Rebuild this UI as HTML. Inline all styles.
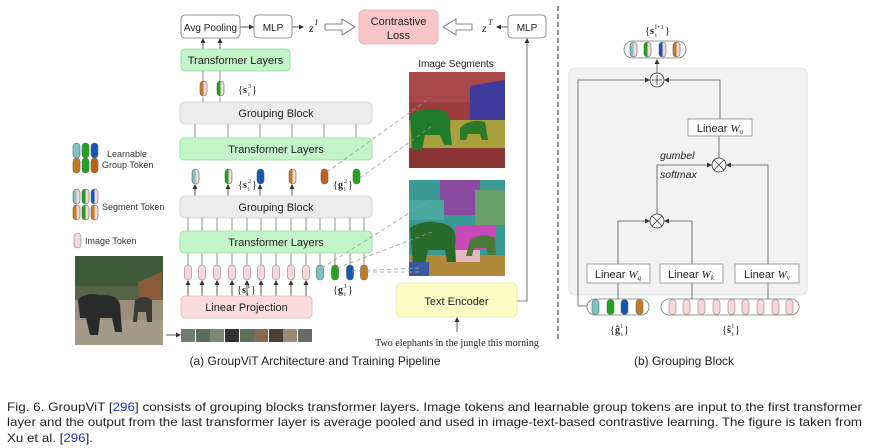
<!DOCTYPE html>
<html><head><meta charset="utf-8"><style>
html,body{margin:0;padding:0;background:#fff;}
svg{display:block;font-family:"Liberation Sans",Arial,sans-serif;}
.lb{font-family:"Liberation Serif",serif;font-size:10px;fill:#222;}
.lbb{font-family:"Liberation Serif",serif;font-size:10px;font-weight:bold;fill:#222;}
.sp{font-family:"Liberation Serif",serif;font-size:6.5px;fill:#222;}
</style></head><body>
<svg width="870" height="448" viewBox="0 0 870 448" xmlns="http://www.w3.org/2000/svg">
<defs>
<marker id="ar" markerWidth="5" markerHeight="5" refX="4" refY="2.5" orient="auto" markerUnits="userSpaceOnUse"><path d="M0,0 L5,2.5 L0,5 Z" fill="#333"/></marker>
<g id="ti"><rect x="0" y="0" width="7" height="15" rx="3.5" fill="#f8d6da" stroke="#888" stroke-width="0.6"/></g>
<g id="gT"><rect width="7" height="15" rx="3.5" fill="#7cc3c3" stroke="#666" stroke-width="0.6"/></g>
<g id="gG"><rect width="7" height="15" rx="3.5" fill="#1ea51e" stroke="#666" stroke-width="0.6"/></g>
<g id="gB"><rect width="7" height="15" rx="3.5" fill="#1356b5" stroke="#666" stroke-width="0.6"/></g>
<g id="gO"><rect width="7" height="15" rx="3.5" fill="#c47a1e" stroke="#666" stroke-width="0.6"/></g>
<g id="gR"><rect width="7" height="15" rx="3.5" fill="#c25e18" stroke="#666" stroke-width="0.6"/></g>
<g id="sT"><rect width="7" height="15" rx="3.5" fill="#f8d6da"/><path d="M3.5,0 A3.5,3.5 0 0 0 0,3.5 V11.5 A3.5,3.5 0 0 0 3.5,15 Z" fill="#7cc3c3"/><rect width="7" height="15" rx="3.5" fill="none" stroke="#666" stroke-width="0.6"/></g>
<g id="sG"><rect width="7" height="15" rx="3.5" fill="#f8d6da"/><path d="M3.5,0 A3.5,3.5 0 0 0 0,3.5 V11.5 A3.5,3.5 0 0 0 3.5,15 Z" fill="#1ea51e"/><rect width="7" height="15" rx="3.5" fill="none" stroke="#666" stroke-width="0.6"/></g>
<g id="sB"><rect width="7" height="15" rx="3.5" fill="#f8d6da"/><path d="M3.5,0 A3.5,3.5 0 0 0 0,3.5 V11.5 A3.5,3.5 0 0 0 3.5,15 Z" fill="#1356b5"/><rect width="7" height="15" rx="3.5" fill="none" stroke="#666" stroke-width="0.6"/></g>
<g id="sO"><rect width="7" height="15" rx="3.5" fill="#f8d6da"/><path d="M3.5,0 A3.5,3.5 0 0 0 0,3.5 V11.5 A3.5,3.5 0 0 0 3.5,15 Z" fill="#c47a1e"/><rect width="7" height="15" rx="3.5" fill="none" stroke="#666" stroke-width="0.6"/></g>
</defs>

<!-- ===== LEFT PANEL ===== -->
<g stroke="#333" stroke-width="0.8" fill="none">
<line x1="240" y1="27" x2="253" y2="27" marker-end="url(#ar)"/>
<line x1="292" y1="27" x2="303" y2="27" marker-end="url(#ar)"/>
<line x1="508" y1="27" x2="497" y2="27" marker-end="url(#ar)"/>
<line x1="203" y1="49" x2="203" y2="39" marker-end="url(#ar)"/>
<line x1="220" y1="49" x2="220" y2="39" marker-end="url(#ar)"/>
</g>
<rect x="181" y="15" width="59" height="23" rx="4" fill="#fff" stroke="#777" stroke-width="0.8"/>
<text x="210.5" y="31" font-size="10" text-anchor="middle" fill="#222">Avg Pooling</text>
<rect x="254" y="15" width="38" height="23" rx="4" fill="#fff" stroke="#777" stroke-width="0.8"/>
<text x="273" y="31" font-size="10" text-anchor="middle" fill="#222">MLP</text>
<text x="309" y="32" font-size="12" font-style="italic" font-family="Liberation Serif,serif" fill="#222">z</text>
<text x="315" y="25" font-size="8" font-style="italic" font-family="Liberation Serif,serif" fill="#222">I</text>
<path d="M325,24 H342 V19 L355,27 L342,35 V30 H325 Z" fill="#fff" stroke="#666" stroke-width="0.8"/>
<rect x="359" y="10" width="79" height="34" rx="5" fill="#f8c6c6" stroke="#eaa" stroke-width="0.8"/>
<text x="398.5" y="25" font-size="11" text-anchor="middle" fill="#222">Contrastive</text>
<text x="398.5" y="39" font-size="11" text-anchor="middle" fill="#222">Loss</text>
<path d="M472,24 H456 V19 L443,27 L456,35 V30 H472 Z" fill="#fff" stroke="#666" stroke-width="0.8"/>
<text x="482" y="32" font-size="12" font-style="italic" font-family="Liberation Serif,serif" fill="#222">z</text>
<text x="488" y="25" font-size="8" font-style="italic" font-family="Liberation Serif,serif" fill="#222">T</text>
<rect x="508" y="15" width="38" height="23" rx="4" fill="#fff" stroke="#777" stroke-width="0.8"/>
<text x="527" y="31" font-size="10" text-anchor="middle" fill="#222">MLP</text>

<rect x="181" y="49" width="109" height="22" rx="4" fill="#c3f5c8" stroke="#95d99d" stroke-width="0.8"/>
<text x="235.5" y="64" font-size="11" text-anchor="middle" fill="#222">Transformer Layers</text>

<g stroke="#777" stroke-width="0.8">
<line x1="203" y1="71" x2="203" y2="82"/><line x1="220" y1="71" x2="220" y2="82"/>
<line x1="203" y1="97" x2="203" y2="102"/><line x1="220" y1="97" x2="220" y2="102"/>
</g>
<use href="#sO" x="200" y="81"/><use href="#sG" x="217" y="81"/>
<text x="238" y="93" class="lb">{</text><text x="243" y="93" class="lbb">s</text><text x="248" y="88" class="sp">3</text><text x="248" y="96" class="sp">i</text><text x="252" y="93" class="lb">}</text>

<rect x="180" y="102" width="192" height="22" rx="5" fill="#ececec" stroke="#ccc" stroke-width="0.8"/>
<text x="276" y="117" font-size="11" text-anchor="middle" fill="#222">Grouping Block</text>

<g stroke="#777" stroke-width="0.8">
<line x1="195" y1="124" x2="195" y2="138"/><line x1="228" y1="124" x2="228" y2="138"/><line x1="260" y1="124" x2="260" y2="138"/><line x1="292" y1="124" x2="292" y2="138"/><line x1="324" y1="124" x2="324" y2="138"/><line x1="356" y1="124" x2="356" y2="138"/>
</g>
<rect x="180" y="138" width="192" height="22" rx="4" fill="#c3f5c8" stroke="#95d99d" stroke-width="0.8"/>
<text x="276" y="153" font-size="11" text-anchor="middle" fill="#222">Transformer Layers</text>

<g stroke="#333" stroke-width="0.8">
<line x1="195" y1="196" x2="195" y2="185" marker-end="url(#ar)"/><line x1="228" y1="196" x2="228" y2="185" marker-end="url(#ar)"/><line x1="260" y1="196" x2="260" y2="185" marker-end="url(#ar)"/><line x1="292" y1="196" x2="292" y2="185" marker-end="url(#ar)"/>
</g>
<use href="#sT" x="192" y="169"/><use href="#sG" x="225" y="169"/><use href="#gB" x="257" y="169"/><use href="#sO" x="289" y="169"/><use href="#gR" x="321" y="169"/><use href="#gG" x="353" y="169"/>
<text x="238" y="188" class="lb">{</text><text x="243" y="188" class="lbb">s</text><text x="248" y="183" class="sp">2</text><text x="248" y="191" class="sp">i</text><text x="252" y="188" class="lb">}</text>
<text x="333" y="188" class="lb">{</text><text x="338" y="188" class="lbb">g</text><text x="344" y="183" class="sp">2</text><text x="344" y="191" class="sp">i</text><text x="348" y="188" class="lb">}</text>

<rect x="180" y="196" width="192" height="22" rx="5" fill="#ececec" stroke="#ccc" stroke-width="0.8"/>
<text x="276" y="211" font-size="11" text-anchor="middle" fill="#222">Grouping Block</text>

<g stroke="#777" stroke-width="0.8">
<path d="M188,218V231M202,218V231M217,218V231M232,218V231M247,218V231M261,218V231M276,218V231M291,218V231M306,218V231M320,218V231M335,218V231M350,218V231M364,218V231"/>
<path d="M188,253V265M202,253V265M217,253V265M232,253V265M247,253V265M261,253V265M276,253V265M291,253V265M306,253V265M320,253V265M335,253V265M350,253V265M364,253V265"/>
</g>
<rect x="180" y="231" width="192" height="22" rx="4" fill="#c3f5c8" stroke="#95d99d" stroke-width="0.8"/>
<text x="276" y="246" font-size="11" text-anchor="middle" fill="#222">Transformer Layers</text>

<g stroke="#333" stroke-width="0.8">
<line x1="188" y1="296" x2="188" y2="281" marker-end="url(#ar)"/><line x1="202" y1="296" x2="202" y2="281" marker-end="url(#ar)"/><line x1="217" y1="296" x2="217" y2="281" marker-end="url(#ar)"/><line x1="232" y1="296" x2="232" y2="281" marker-end="url(#ar)"/><line x1="247" y1="296" x2="247" y2="281" marker-end="url(#ar)"/><line x1="261" y1="296" x2="261" y2="281" marker-end="url(#ar)"/><line x1="276" y1="296" x2="276" y2="281" marker-end="url(#ar)"/><line x1="291" y1="296" x2="291" y2="281" marker-end="url(#ar)"/><line x1="306" y1="296" x2="306" y2="281" marker-end="url(#ar)"/>
</g>
<use href="#ti" x="184.5" y="265"/><use href="#ti" x="198.5" y="265"/><use href="#ti" x="213.5" y="265"/><use href="#ti" x="228.5" y="265"/><use href="#ti" x="243.5" y="265"/><use href="#ti" x="257.5" y="265"/><use href="#ti" x="272.5" y="265"/><use href="#ti" x="287.5" y="265"/><use href="#ti" x="302.5" y="265"/>
<use href="#gT" x="316.5" y="265"/><use href="#gG" x="331.5" y="265"/><use href="#gB" x="346.5" y="265"/><use href="#gO" x="360.5" y="265"/>
<text x="237" y="293" class="lb">{</text><text x="242" y="293" class="lbb">s</text><text x="247" y="288" class="sp">1</text><text x="247" y="296" class="sp">i</text><text x="251" y="293" class="lb">}</text>
<text x="333" y="293" class="lb">{</text><text x="338" y="293" class="lbb">g</text><text x="344" y="288" class="sp">1</text><text x="344" y="296" class="sp">i</text><text x="348" y="293" class="lb">}</text>

<rect x="181" y="296" width="131" height="22" rx="4" fill="#fbdcdc" stroke="#e5b5b5" stroke-width="0.8"/>
<text x="246.5" y="311" font-size="11" text-anchor="middle" fill="#222">Linear Projection</text>

<!-- patches -->
<g>
<rect x="181" y="329" width="14" height="13" fill="#6f7d6c"/><rect x="196" y="329" width="14" height="13" fill="#5a6d5a"/><rect x="210" y="329" width="14" height="13" fill="#7c8a74"/><rect x="225" y="329" width="14" height="13" fill="#2f322f"/><rect x="240" y="329" width="14" height="13" fill="#5e6e58"/><rect x="254" y="329" width="14" height="13" fill="#8a6a4e"/><rect x="269" y="329" width="14" height="13" fill="#4a3f38"/><rect x="283" y="329" width="14" height="13" fill="#9a8a78"/><rect x="298" y="329" width="14" height="13" fill="#6a6a64"/>
</g>
<line x1="166" y1="335" x2="180" y2="335" stroke="#333" stroke-width="0.8" marker-end="url(#ar)"/>

<!-- photo -->
<rect x="75" y="256" width="88" height="89" fill="#56654a"/>
<rect x="75" y="256" width="88" height="30" fill="#3f5a3a"/>
<rect x="75" y="300" width="88" height="45" fill="#9a8e7c"/>
<rect x="75" y="320" width="88" height="25" fill="#a49a8a"/>
<path d="M138,282 L162,272 L162,300 L140,300 Z" fill="#8a5a3a"/>
<path d="M78,300 Q85,292 100,295 Q118,294 120,305 L122,332 L115,332 L112,318 L100,318 L98,335 L90,335 L86,318 L80,318 Z" fill="#2a2a2a"/>
<path d="M135,300 Q145,294 152,300 L152,322 L147,322 L146,312 L138,312 L137,322 L133,322 Z" fill="#3a3a34"/>

<!-- legend -->
<use href="#gT" x="73" y="143"/><use href="#gG" x="82" y="143"/><use href="#gB" x="91" y="143"/>
<use href="#gO" x="73" y="158"/><use href="#gG" x="82" y="158"/><use href="#gR" x="91" y="158"/>
<text x="107" y="157" font-size="9" fill="#333">Learnable</text>
<text x="102" y="168" font-size="9" fill="#333">Group Token</text>
<use href="#sT" x="73" y="189"/><use href="#sG" x="82" y="189"/><use href="#sB" x="91" y="189"/>
<use href="#sO" x="73" y="205"/><use href="#sG" x="82" y="205"/><use href="#sO" x="91" y="205"/>
<text x="102" y="210" font-size="9" fill="#333">Segment Token</text>
<use href="#ti" x="74" y="233"/>
<text x="85" y="244" font-size="9" fill="#333">Image Token</text>

<!-- segments -->
<text x="456" y="67" font-size="10" text-anchor="middle" fill="#222">Image Segments</text>
<g>
<rect x="409" y="72" width="96" height="96" fill="#9c3d3d"/>
<rect x="409" y="72" width="96" height="30" fill="#a84848"/>
<path d="M470,86 L505,80 L505,138 L470,138 Z" fill="#3d3a9c"/>
<rect x="409" y="120" width="96" height="28" fill="#a8a03c"/>
<rect x="409" y="148" width="96" height="20" fill="#8a3434"/>
<path d="M410,116 Q420,106 440,110 Q452,112 450,128 L452,145 L444,145 L440,135 L425,135 L422,150 L412,150 Z" fill="#1f7a2a"/>
<path d="M460,128 Q470,118 485,122 L488,140 L482,140 L480,134 L468,134 L466,140 L460,140 Z" fill="#2a7a2a"/>
</g>
<g>
<rect x="409" y="180" width="96" height="96" fill="#3a9a96"/>
<rect x="440" y="180" width="40" height="35" fill="#8a4aa0"/>
<rect x="409" y="200" width="35" height="20" fill="#4aa8a0"/>
<rect x="455" y="225" width="40" height="25" fill="#c84ab8"/>
<rect x="475" y="190" width="30" height="35" fill="#6aa06a"/>
<rect x="409" y="255" width="96" height="21" fill="#b08a3a"/>
<rect x="450" y="250" width="30" height="12" fill="#e8b8c0"/>
<path d="M410,228 Q425,218 445,224 Q458,228 455,245 L456,262 L447,262 L445,250 L428,250 L425,265 L413,265 Z" fill="#2a6a2a"/>
<path d="M470,240 Q482,232 495,238 L496,255 L488,255 L486,248 L474,248 L472,256 L466,256 Z" fill="#4a7a3a"/>
<rect x="409" y="262" width="20" height="14" fill="#3a5aa0"/>
</g>
<g stroke="#999" stroke-width="0.8" stroke-dasharray="4,3" fill="none">
<line x1="327" y1="172" x2="430" y2="98"/>
<line x1="360" y1="178" x2="432" y2="126"/>
<line x1="322" y1="268" x2="430" y2="200"/>
<line x1="337" y1="268" x2="432" y2="232"/>
<line x1="352" y1="271" x2="420" y2="268"/>
<line x1="366" y1="272" x2="420" y2="272"/>
</g>

<rect x="396" y="283" width="121" height="34" rx="5" fill="#fdfbc6" stroke="#ecea9c" stroke-width="0.8"/>
<text x="456.5" y="305" font-size="11" text-anchor="middle" fill="#222">Text Encoder</text>
<path d="M517,301 H527 V39" stroke="#555" stroke-width="0.8" fill="none" marker-end="url(#ar)"/>
<line x1="457" y1="332" x2="457" y2="318" stroke="#333" stroke-width="0.8" marker-end="url(#ar)"/>
<text x="457" y="346" font-size="10" text-anchor="middle" font-family="Liberation Serif,serif" fill="#222">Two elephants in the jungle this morning</text>

<text x="315" y="365" font-size="12" text-anchor="middle" fill="#222">(a) GroupViT Architecture and Training Pipeline</text>

<line x1="558" y1="6" x2="558" y2="340" stroke="#222" stroke-width="1" stroke-dasharray="5,3"/>

<!-- ===== RIGHT PANEL ===== -->
<rect x="569" y="68" width="238" height="227" rx="6" fill="#f2f2f2" stroke="#ddd" stroke-width="0.8"/>
<text x="645" y="34" class="lb">{</text><text x="650" y="34" class="lbb">s</text><text x="655" y="29" class="sp">l+1</text><text x="655" y="37" class="sp">i</text><text x="665" y="34" class="lb">}</text>
<rect x="624" y="41" width="62" height="17" rx="8.5" fill="#fff" stroke="#777" stroke-width="0.8"/>
<use href="#sT" x="630" y="42"/><use href="#sG" x="644" y="42"/><use href="#sB" x="659" y="42"/><use href="#sO" x="673" y="42"/>

<g stroke="#555" stroke-width="0.8" fill="none">
<line x1="657" y1="73" x2="657" y2="60" marker-end="url(#ar)"/>
<path d="M587,306 H578 V80 H649" marker-end="url(#ar)"/>
<path d="M720,119 V80 H665" marker-end="url(#ar)"/>
<line x1="719" y1="158" x2="719" y2="136"/>
<path d="M618,264 V221 H649" marker-end="url(#ar)"/>
<path d="M692,264 V221 H665" marker-end="url(#ar)"/>
<path d="M657,214 V165 H711" marker-end="url(#ar)"/>
<path d="M768,264 V165 H727" marker-end="url(#ar)"/>
<line x1="618" y1="283" x2="618" y2="299"/>
<line x1="692" y1="283" x2="692" y2="299"/>
<line x1="768" y1="283" x2="768" y2="299"/>
</g>
<circle cx="657" cy="80" r="7" fill="#fff" stroke="#333" stroke-width="0.8"/>
<path d="M652,80 H662 M657,75 V85" stroke="#333" stroke-width="0.8"/>
<circle cx="719" cy="165" r="7" fill="#fff" stroke="#333" stroke-width="0.8"/>
<path d="M714,160 L724,170 M724,160 L714,170" stroke="#333" stroke-width="0.8"/>
<circle cx="657" cy="221" r="7" fill="#fff" stroke="#333" stroke-width="0.8"/>
<path d="M652,216 L662,226 M662,216 L652,226" stroke="#333" stroke-width="0.8"/>

<rect x="688" y="119" width="64" height="17" fill="#fff" stroke="#888" stroke-width="0.8"/>
<text x="720" y="132" font-size="11" text-anchor="middle" fill="#222">Linear <tspan font-style="italic" font-family="Liberation Serif,serif">W<tspan font-size="7" dy="2">o</tspan></tspan></text>
<text x="660" y="159" font-size="10.5" font-style="italic" fill="#222">gumbel</text>
<text x="660" y="178" font-size="10.5" font-style="italic" fill="#222">softmax</text>

<rect x="587" y="264" width="63" height="19" fill="#fff" stroke="#888" stroke-width="0.8"/>
<text x="618" y="278" font-size="11" text-anchor="middle" fill="#222">Linear <tspan font-style="italic" font-family="Liberation Serif,serif">W<tspan font-size="7" dy="2">q</tspan></tspan></text>
<rect x="660" y="264" width="63" height="19" fill="#fff" stroke="#888" stroke-width="0.8"/>
<text x="691" y="278" font-size="11" text-anchor="middle" fill="#222">Linear <tspan font-style="italic" font-family="Liberation Serif,serif">W<tspan font-size="7" dy="2">k</tspan></tspan></text>
<rect x="735" y="264" width="64" height="19" fill="#fff" stroke="#888" stroke-width="0.8"/>
<text x="767" y="278" font-size="11" text-anchor="middle" fill="#222">Linear <tspan font-style="italic" font-family="Liberation Serif,serif">W<tspan font-size="7" dy="2">v</tspan></tspan></text>

<rect x="587" y="299" width="62" height="16" rx="8" fill="#fff" stroke="#777" stroke-width="0.8"/>
<use href="#gT" x="592" y="299.5"/><use href="#gG" x="607" y="299.5"/><use href="#gB" x="621" y="299.5"/><use href="#gO" x="636" y="299.5"/>
<rect x="661" y="299" width="138" height="16" rx="8" fill="#fff" stroke="#777" stroke-width="0.8"/>
<use href="#ti" x="669" y="299.5"/><use href="#ti" x="683" y="299.5"/><use href="#ti" x="698" y="299.5"/><use href="#ti" x="713" y="299.5"/><use href="#ti" x="728" y="299.5"/><use href="#ti" x="742" y="299.5"/><use href="#ti" x="757" y="299.5"/><use href="#ti" x="772" y="299.5"/><use href="#ti" x="786" y="299.5"/>
<text x="610" y="333" class="lb">{</text><text x="615" y="333" class="lbb">ĝ</text><text x="621" y="328" class="sp">l</text><text x="621" y="336" class="sp">i</text><text x="624" y="333" class="lb">}</text>
<text x="722" y="333" class="lb">{</text><text x="727" y="333" class="lbb">ŝ</text><text x="732" y="328" class="sp">l</text><text x="732" y="336" class="sp">i</text><text x="735" y="333" class="lb">}</text>
<text x="684" y="365" font-size="12" text-anchor="middle" fill="#222">(b) Grouping Block</text>

<!-- caption -->
<g font-size="12" fill="#222">
<text x="7" y="411" textLength="855" lengthAdjust="spacingAndGlyphs">Fig. 6. GroupViT [<tspan fill="#2233cc">296</tspan>] consists of grouping blocks transformer layers. Image tokens and learnable group tokens are input to the first transformer</text>
<text x="7" y="426" textLength="855" lengthAdjust="spacingAndGlyphs">layer and the output from the last transformer layer is average pooled and used in image-text-based contrastive learning. The figure is taken from</text>
<text x="7" y="442" textLength="86" lengthAdjust="spacingAndGlyphs">Xu et al. [<tspan fill="#2233cc">296</tspan>].</text>
</g>
</svg>
</body></html>
